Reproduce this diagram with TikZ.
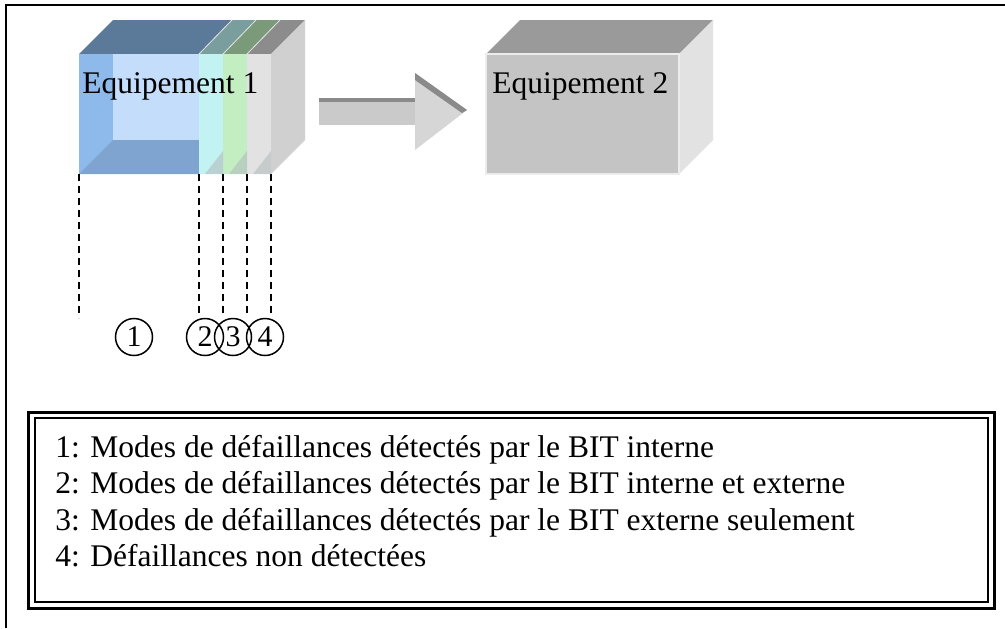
\documentclass[tikz,border=0pt]{standalone}
\usepackage{fontspec}
\setmainfont{Liberation Serif}
\usepackage{xcolor}
\usepackage{tikz}
\definecolor{blueTop}{HTML}{5B7A9A}
\definecolor{blueWall}{HTML}{8DBAEB}
\definecolor{blueBack}{HTML}{C4DDFB}
\definecolor{blueFloor}{HTML}{7FA4D0}
\definecolor{cyanTop}{HTML}{7A9E9E}
\definecolor{cyanFront}{HTML}{C2F2F2}
\definecolor{greenTop}{HTML}{7A9A7A}
\definecolor{greenFront}{HTML}{C2EEC2}
\definecolor{greyTop}{HTML}{8C8C8C}
\definecolor{greyFront}{HTML}{E2E2E2}
\definecolor{greySide}{HTML}{D0D0D0}
\definecolor{floorShade}{HTML}{B4BCBC}
\definecolor{boxTop}{HTML}{9A9A9A}
\definecolor{boxFront}{HTML}{C4C4C4}
\definecolor{boxSide}{HTML}{E2E2E2}
\definecolor{arrowBody}{HTML}{CACACA}
\definecolor{arrowHead}{HTML}{D6D6D6}
\definecolor{arrowEdge}{HTML}{8A8A8A}
\tikzset{
num/.style = {circle, draw=black, line width=0.75pt, minimum size=#1,
              inner sep=0pt, font=\fontsize{15}{18}\selectfont},
num/.default = 18.5pt % diameter of the circle
}
\tikzset{
lbl/.style = {anchor=base west, inner sep=0pt, font=\fontsize{15.75}{18}\selectfont}
}
\tikzset{
guide/.style = {line width=1.1pt, dash pattern=on 3.5pt off 2.5pt}
}

\begin{document}
\begin{tikzpicture}[x=0.5pt,y=-0.5pt]
\useasboundingbox (0,0) rectangle (1005,628);
\draw[line width=1pt] (6,628) |- (1005,5);

% Equipement 1
\fill[blueTop] (79,54) -- (113,20) -- (232,20) -- (199,54) -- cycle;
\fill[cyanTop] (199,54) -- (232,20) -- (256,20) -- (223,54) -- cycle;
\fill[greenTop] (223,54) -- (256,20) -- (280,20) -- (247,54) -- cycle;
\fill[greyTop] (247,54) -- (280,20) -- (305,20) -- (271,54) -- cycle;
\draw[white!80!gray, line width=0.4pt] (199,54) -- (232,20) (223,54) -- (256,20) (247,54) -- (280,20);
\fill[greySide] (271,54) -- (305,20) -- (305,140) -- (271,174) -- cycle;
\fill[blueWall] (79,54) rectangle (199,174);
\fill[blueBack] (113,54) rectangle (199,140);
\fill[blueFloor] (79,174) -- (113,140) -- (199,140) -- (199,174) -- cycle;
\fill[cyanFront] (199,54) rectangle (223,174);
\fill[greenFront] (223,54) rectangle (247,174);
\fill[greyFront] (247,54) rectangle (271,174);
\fill[floorShade, opacity=0.6] (205,174) -- (223,151) -- (223,174) -- cycle;
\fill[floorShade, opacity=0.6] (229,174) -- (247,151) -- (247,174) -- cycle;
\fill[floorShade, opacity=0.6] (253,174) -- (271,151) -- (271,174) -- cycle;
\node[lbl] (equipA) at (82,93) {Equipement 1};

% arrow
\fill[arrowBody] (319,98) rectangle (415,125);
\fill[arrowEdge] (319,98) rectangle (415,102);
\fill[arrowHead] (415,73) -- (467,110) -- (415,150) -- cycle;
\fill[arrowEdge] (415,73) -- (467,110) -- (462,113) -- (415,80) -- cycle;

% Equipement 2
\fill[boxTop] (486,54) -- (520,20) -- (713,20) -- (679,54) -- cycle;
\fill[boxSide] (679,54) -- (713,20) -- (713,140) -- (679,174) -- cycle;
\fill[boxFront] (486,54) rectangle (679,174);
\draw[white!85!gray, line width=0.6pt] (486,54) rectangle (679,174);
\node[lbl] (equipB) at (492,93) {Equipement 2};

% guides
\coordinate (g1) at (79,174);
\coordinate (g2) at (199,174);
\coordinate (g3) at (223,174);
\coordinate (g4) at (247,174);
\coordinate (g5) at (271,174);
\coordinate (g1End) at (79,318);
\node[num] (n1) at (134,337) {1};
\node[num] (n2) at (205,337) {2};
\node[num] (n3) at (233,337) {3};
\node[num] (n4) at (265,337) {4};
\draw[guide] (g1) -- (g1End);
\draw[guide] (g2) -- (g2 |- n2.north);
\draw[guide] (g3) -- (g3 |- n3.north);
\draw[guide] (g4) -- (g4 |- n4.north);
\draw[guide] (g5) -- (g5 |- n4.north);

% legend
\draw[line width=1.5pt] (28,412) rectangle (994,608);
\draw[line width=1.1pt] (35,418) rectangle (988,602);
\node[lbl] (key1) at (55,457) {1: Modes de défaillances détectés par le BIT interne};
\node[lbl] (key2) at (55,493.5) {2: Modes de défaillances détectés par le BIT interne et externe};
\node[lbl] (key3) at (55,530) {3: Modes de défaillances détectés par le BIT externe seulement};
\node[lbl] (key4) at (55,566) {4: Défaillances non détectées};
\end{tikzpicture}
\end{document}
